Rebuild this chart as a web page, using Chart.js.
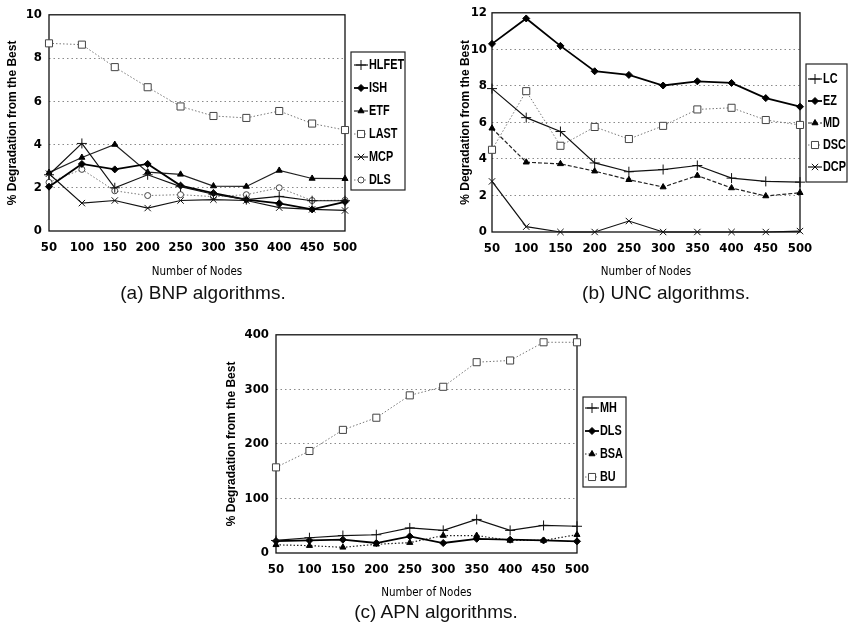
<!DOCTYPE html>
<html><head><meta charset="utf-8">
<script src="https://cdn.jsdelivr.net/npm/chart.js@4.4.1/dist/chart.umd.min.js"></script>
<style>
html,body{margin:0;padding:0;background:#fff;}
#page{position:relative;width:856px;height:627px;overflow:hidden;background:#fff;}
canvas{position:absolute;}
.cap{position:absolute;font-family:'Liberation Sans',Arial,sans-serif;font-size:19px;color:#111;white-space:nowrap;transform:translate(-50%,-50%);}
</style></head><body>
<div id="page">
<canvas id="ca" width="420" height="285" style="left:0px;top:0px;width:420px;height:285px"></canvas>
<canvas id="cb" width="416" height="285" style="left:440px;top:0px;width:416px;height:285px"></canvas>
<canvas id="cc" width="440" height="285" style="left:210px;top:320px;width:440px;height:285px"></canvas>
<div class="cap" style="left:203px;top:293px">(a) BNP algorithms.</div>
<div class="cap" style="left:666px;top:293px">(b) UNC algorithms.</div>
<div class="cap" style="left:436px;top:612px">(c) APN algorithms.</div>
</div>
<script>
// ---- data ----
const nodeLabels = ['50','100','150','200','250','300','350','400','450','500'];

const bnpHLFET = [2.6, 4.05, 2.0, 2.6, 2.05, 1.7, 1.45, 1.6, 1.4, 1.4];
const bnpISH   = [2.05, 3.1, 2.85, 3.1, 2.1, 1.75, 1.45, 1.28, 1.0, 1.35];
const bnpETF   = [2.7, 3.4, 4.0, 2.72, 2.62, 2.08, 2.06, 2.8, 2.43, 2.42];
const bnpLAST  = [8.68, 8.62, 7.58, 6.65, 5.76, 5.32, 5.23, 5.55, 4.97, 4.67];
const bnpMCP   = [2.65, 1.29, 1.41, 1.06, 1.41, 1.45, 1.41, 1.08, 1.0, 0.95];
const bnpDLS   = [2.25, 2.85, 1.86, 1.64, 1.68, 1.59, 1.68, 2.0, 1.41, 1.42];

const uncLC  = [7.85, 6.26, 5.5, 3.78, 3.3, 3.42, 3.64, 2.95, 2.77, 2.73];
const uncEZ  = [10.3, 11.69, 10.19, 8.8, 8.6, 8.02, 8.25, 8.16, 7.33, 6.86];
const uncMD  = [5.68, 3.82, 3.73, 3.33, 2.86, 2.46, 3.09, 2.41, 1.97, 2.15];
const uncDSC = [4.5, 7.71, 4.72, 5.75, 5.09, 5.81, 6.71, 6.8, 6.13, 5.86];
const uncDCP = [2.77, 0.29, 0, 0, 0.6, 0, 0, 0, 0, 0.05];

const apnMH  = [23, 28, 32, 33.5, 46, 41.4, 61.5, 41.4, 50.5, 49];
const apnDLS = [22, 23, 24.4, 18.3, 30.5, 18.3, 26, 24.4, 23, 21.4];
const apnBSA = [15, 13.5, 10.4, 16, 19, 32, 32, 23, 23, 33.6];
const apnBU  = [157, 187, 225.7, 248, 289, 304.7, 349.8, 352.9, 386.3, 386.3];

const yTitle = '% Degradation from the Best';
const xTitle = 'Number of Nodes';

// ---- styles ----
const NARROW = "'DejaVu Sans Condensed','Liberation Sans',Arial,sans-serif";
const STY = {
  plus:    {borderColor:'#111', borderWidth:1.2, borderDash:[], pointStyle:'cross', pointRadius:5, pointBorderColor:'#111', pointBackgroundColor:'#111', pointBorderWidth:1},
  diamond: {borderColor:'#000', borderWidth:1.8, borderDash:[], pointStyle:'rectRot', pointRadius:3.5, pointBorderColor:'#000', pointBackgroundColor:'#000', pointBorderWidth:1},
  tri:     {borderColor:'#222', borderWidth:1.2, borderDash:[], pointStyle:'triangle', pointRadius:3.5, pointBorderColor:'#000', pointBackgroundColor:'#000', pointBorderWidth:1},
  triDash: {borderColor:'#222', borderWidth:1.2, borderDash:[4,2], pointStyle:'triangle', pointRadius:3.5, pointBorderColor:'#000', pointBackgroundColor:'#000', pointBorderWidth:1},
  triDot:  {borderColor:'#222', borderWidth:1.2, borderDash:[1.5,2], pointStyle:'triangle', pointRadius:3.5, pointBorderColor:'#000', pointBackgroundColor:'#000', pointBorderWidth:1},
  square:  {borderColor:'#777', borderWidth:1, borderDash:[1.5,2], pointStyle:'rect', pointRadius:5, pointBorderColor:'#444', pointBackgroundColor:'#fff', pointBorderWidth:1},
  cross:   {borderColor:'#111', borderWidth:1.2, borderDash:[], pointStyle:'crossRot', pointRadius:4.5, pointBorderColor:'#111', pointBackgroundColor:'#111', pointBorderWidth:1},
  circle:  {borderColor:'#777', borderWidth:1, borderDash:[1.5,2], pointStyle:'circle', pointRadius:3, pointBorderColor:'#444', pointBackgroundColor:'#fff', pointBorderWidth:1}
};
function ds(label, data, s) {
  return Object.assign({label, data, clip:false, tension:0, fill:false}, STY[s]);
}

// ---- plugins ----
const framePlugin = {
  id:'frame',
  beforeDatasetsDraw(chart){
    const {ctx, chartArea:a} = chart;
    ctx.save(); ctx.strokeStyle='#111'; ctx.lineWidth=1.3;
    ctx.strokeRect(a.left, a.top, a.right-a.left, a.bottom-a.top);
    ctx.restore();
  }
};
function marker(ctx, s, x, y) {
  if (Chart.helpers && Chart.helpers.drawPoint) {
    Chart.helpers.drawPoint(ctx, {pointStyle:s.pointStyle, radius:s.pointRadius, borderWidth:s.pointBorderWidth, rotation:0}, x, y);
  }
}
const boxLegend = {
  id:'boxLegend',
  afterDraw(chart, args, o){
    if (!o || !o.box) return;
    const ctx = chart.ctx;
    ctx.save();
    ctx.strokeStyle='#222'; ctx.lineWidth=1.2;
    ctx.strokeRect(o.box[0], o.box[1], o.box[2], o.box[3]);
    chart.data.datasets.forEach((d,i)=>{
      const y = o.firstY + i*o.gap;
      ctx.save();
      ctx.strokeStyle=d.borderColor; ctx.lineWidth=d.borderWidth;
      ctx.setLineDash(d.borderDash||[]);
      ctx.beginPath(); ctx.moveTo(o.x0,y); ctx.lineTo(o.x1,y); ctx.stroke();
      ctx.setLineDash([]);
      ctx.fillStyle=d.pointBackgroundColor; ctx.strokeStyle=d.pointBorderColor; ctx.lineWidth=d.pointBorderWidth;
      marker(ctx, d, (o.x0+o.x1)/2, y);
      ctx.restore();
      ctx.save();
      ctx.translate(o.textX, y);
      ctx.scale(0.75, 1);
      ctx.fillStyle='#000'; ctx.font="bold 14.5px 'Liberation Sans', Arial, sans-serif"; ctx.textBaseline='middle'; ctx.textAlign='left';
      ctx.fillText(d.label, 0, 0);
      ctx.restore();
    });
    ctx.restore();
  }
};

function makeChart(id, datasets, ymax, ystep, L) {
  return new Chart(document.getElementById(id), {
    type:'line',
    data:{labels:nodeLabels, datasets},
    plugins:[framePlugin, boxLegend],
    options:{
      responsive:false, animation:false, devicePixelRatio:1,
      layout:{padding:{top:L.top, right:L.right, bottom:0, left:0}},
      plugins:{legend:{display:false}, tooltip:{enabled:false}, boxLegend:L.legend},
      scales:{
        x:{
          type:'category', offset:false,
          grid:{display:false, drawTicks:false},
          border:{display:false},
          ticks:{autoSkip:false, maxRotation:0, padding:L.xpad, color:'#000', font:{family:NARROW, size:13, weight:'bold'}},
          title:{display:true, text:xTitle, color:'#000', font:{family:NARROW, size:11.5}, padding:{top:0, bottom:L.xtitlePad}},
          afterFit:(s)=>{ s.height = L.xh; }
        },
        y:{
          min:0, max:ymax,
          grid:{drawTicks:false, color:(c)=> (c.tick && (c.tick.value===0 || c.tick.value===ymax)) ? 'rgba(0,0,0,0)' : '#8a8a8a', lineWidth:1},
          border:{display:false, dash:[1.5,3]},
          ticks:{stepSize:ystep, padding:L.ypad, color:'#000', font:{family:NARROW, size:13, weight:'bold'}},
          title:{display:true, text:yTitle, color:'#000', font:{family:'Liberation Sans, Arial, sans-serif', size:12, weight:'bold'}, padding:{top:L.ytitlePad, bottom:0}},
          afterFit:(s)=>{ s.width = L.yw; }
        }
      }
    }
  });
}

makeChart('ca', [
  ds('HLFET', bnpHLFET, 'plus'),
  ds('ISH', bnpISH, 'diamond'),
  ds('ETF', bnpETF, 'tri'),
  ds('LAST', bnpLAST, 'square'),
  ds('MCP', bnpMCP, 'cross'),
  ds('DLS', bnpDLS, 'circle')
], 10, 2, {top:11, right:75, xh:54, yw:49, xpad:9, ypad:7, xtitlePad:6, ytitlePad:5,
  legend:{box:[351,52,54,138], firstY:65, gap:23, x0:354, x1:368, textX:369}});

makeChart('cb', [
  ds('LC', uncLC, 'plus'),
  ds('EZ', uncEZ, 'diamond'),
  ds('MD', uncMD, 'triDash'),
  ds('DSC', uncDSC, 'square'),
  ds('DCP', uncDCP, 'cross')
], 12, 2, {top:11, right:56, xh:53, yw:52, xpad:9, ypad:5, xtitlePad:6, ytitlePad:18,
  legend:{box:[366,64,41,118], firstY:79, gap:22, x0:368, x1:382, textX:383}});

makeChart('cc', [
  ds('MH', apnMH, 'plus'),
  ds('DLS', apnDLS, 'diamond'),
  ds('BSA', apnBSA, 'triDot'),
  ds('BU', apnBU, 'square')
], 400, 100, {top:13, right:73, xh:52, yw:66, xpad:9, ypad:7, xtitlePad:5, ytitlePad:14,
  legend:{box:[373,77,43,90], firstY:88, gap:23, x0:375, x1:389, textX:390}});
</script>
</body></html>
